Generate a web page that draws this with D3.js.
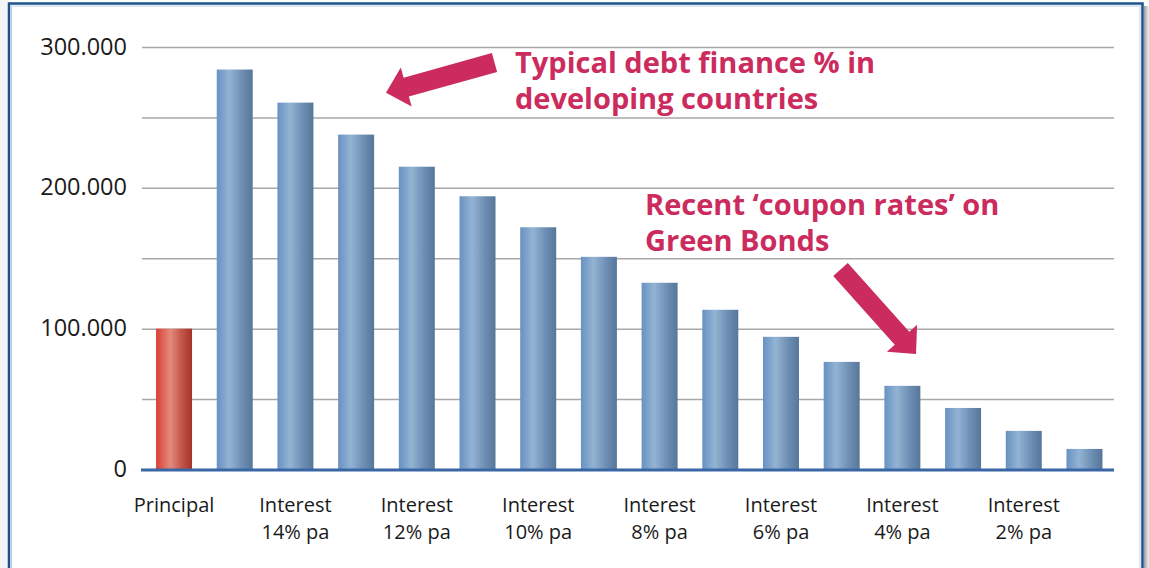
<!DOCTYPE html>
<html>
<head>
    <title>Interest vs principal</title>
    <script src="https://d3js.org/d3.v7.min.js"></script>
    <style>
        body { margin: 0; background: #fff; }
        #chart { display: block; }
    </style>
</head>
<body>
<svg id="chart"></svg>
<script>
    // data
    const categories = ["Principal", "15%", "14%", "13%", "12%", "11%", "10%", "9%", "8%", "7%", "6%", "5%", "4%", "3%", "2%", "1%"];
    const values = [100000, 284000, 260500, 237800, 215000, 194000, 172000, 151000, 132600, 113400, 94200, 76400, 59400, 43700, 27400, 14600];
    const labelLines = {
        "Principal": ["Principal"],
        "14%": ["Interest", "14% pa"],
        "12%": ["Interest", "12% pa"],
        "10%": ["Interest", "10% pa"],
        "8%": ["Interest", "8% pa"],
        "6%": ["Interest", "6% pa"],
        "4%": ["Interest", "4% pa"],
        "2%": ["Interest", "2% pa"]
    };
    const gridTicks = [0, 50000, 100000, 150000, 200000, 250000, 300000];
    const labelTicks = [0, 100000, 200000, 300000];
    const notes = [
        { lines: ["Typical debt finance % in", "developing countries"], x: 515, y: 73 },
        { lines: ["Recent \u2018coupon rates\u2019 on", "Green Bonds"], x: 645, y: 215 }
    ];

    const width = 1149, height = 568;
    const plotLeft = 142, plotRight = 1114, plotTop = 47, plotBottom = 469.5;
    const magenta = "#cc2b5e";
    const font = "'Open Sans', 'Noto Sans', sans-serif";

    const svg = d3.select("#chart").attr("width", width).attr("height", height);
    const defs = svg.append("defs");

    function barGradient(id, stops) {
        const g = defs.append("linearGradient").attr("id", id)
            .attr("x1", "0%").attr("x2", "100%").attr("y1", "0%").attr("y2", "0%");
        stops.forEach(s => g.append("stop").attr("offset", s[0]).attr("stop-color", s[1]));
    }
    barGradient("blueBar", [["0%", "#6892c2"], ["35%", "#93b3d3"], ["70%", "#6e8fb4"], ["100%", "#567799"]]);
    barGradient("redBar", [["0%", "#da3f33"], ["40%", "#e38a7e"], ["70%", "#c4574b"], ["100%", "#a6332a"]]);
    barGradient("shadow", [["0%", "#9a9a9a"], ["100%", "#f2f2f2"]]);

    // frame
    svg.append("rect").attr("x", 0).attr("y", 0).attr("width", 8).attr("height", height).attr("fill", "#f5f5f5");
    svg.append("rect").attr("x", 1144).attr("y", 6).attr("width", 5).attr("height", height).attr("fill", "url(#shadow)");
    svg.append("rect").attr("x", 9).attr("y", 3.5).attr("width", 1133.5).attr("height", 620)
        .attr("fill", "#fff").attr("stroke", "#1d528c").attr("stroke-width", 2.5);
    svg.append("rect").attr("x", 11.5).attr("y", 6).attr("width", 1128.5).attr("height", 620)
        .attr("fill", "none").attr("stroke", "#b9cfe6").attr("stroke-width", 1);

    const x = d3.scaleBand().domain(categories).range([143.9, 1114.6])
        .paddingInner(0.407).paddingOuter(0.2);
    const y = d3.scaleLinear().domain([0, 300000]).range([plotBottom, plotTop]);

    const loc = d3.formatLocale({ decimal: ",", thousands: ".", grouping: [3], currency: ["", ""] });
    const fmt = loc.format(",");

    // y grid + labels
    const yAxis = svg.append("g")
        .attr("transform", `translate(${plotLeft},0)`)
        .call(d3.axisLeft(y).tickValues(gridTicks).tickSize(-(plotRight - plotLeft)).tickPadding(15)
            .tickFormat(d => labelTicks.includes(d) ? fmt(d) : ""));
    yAxis.select(".domain").remove();
    yAxis.selectAll(".tick line").attr("stroke", "#a8a8a8").attr("stroke-width", 1.5);
    yAxis.selectAll(".tick text").attr("font-family", font).attr("font-size", 23.5)
        .attr("fill", "#1a1a1a").attr("dy", "0.3em");

    // bars
    svg.append("g").selectAll("rect")
        .data(categories.map((c, i) => ({ c, v: values[i] })))
        .join("rect")
        .attr("x", d => x(d.c))
        .attr("width", x.bandwidth())
        .attr("y", d => y(d.v))
        .attr("height", d => y(0) - y(d.v))
        .attr("fill", d => d.c === "Principal" ? "url(#redBar)" : "url(#blueBar)");

    // x axis
    const xAxis = svg.append("g")
        .attr("transform", `translate(0,${plotBottom})`)
        .call(d3.axisBottom(x).tickSize(0).tickFormat(""));
    xAxis.select(".domain").remove();
    xAxis.append("line").attr("x1", plotLeft - 1).attr("x2", plotRight).attr("y1", 0.5).attr("y2", 0.5)
        .attr("stroke", "#3b66a5").attr("stroke-width", 3);
    xAxis.selectAll(".tick").each(function (d) {
        const lines = labelLines[d];
        if (!lines) return;
        const t = d3.select(this).select("text")
            .attr("font-family", font).attr("font-size", 20).attr("fill", "#1a1a1a")
            .attr("y", 0).attr("dy", null);
        lines.forEach((s, i) => {
            t.append("tspan").attr("x", 0).attr("y", 42.5 + i * 27).text(s);
        });
    });

    // annotations
    notes.forEach(n => {
        const t = svg.append("text").attr("font-family", font).attr("font-weight", "bold")
            .attr("font-size", 29).attr("fill", magenta);
        n.lines.forEach((s, i) => t.append("tspan").attr("x", n.x).attr("y", n.y + i * 35.5).text(s));
    });

    function arrow(tail, tip, shaftW, headW, headL) {
        const dx = tip[0] - tail[0], dy = tip[1] - tail[1];
        const len = Math.hypot(dx, dy);
        const ux = dx / len, uy = dy / len, px = -uy, py = ux;
        const bx = tip[0] - ux * headL, by = tip[1] - uy * headL;
        const pts = [
            [tail[0] + px * shaftW / 2, tail[1] + py * shaftW / 2],
            [bx + px * shaftW / 2, by + py * shaftW / 2],
            [bx + px * headW / 2, by + py * headW / 2],
            tip,
            [bx - px * headW / 2, by - py * headW / 2],
            [bx - px * shaftW / 2, by - py * shaftW / 2],
            [tail[0] - px * shaftW / 2, tail[1] - py * shaftW / 2]
        ];
        svg.append("path").attr("d", d3.line()(pts) + "Z").attr("fill", magenta);
    }
    arrow([494.5, 62.5], [386, 92.7], 19.5, 40.5, 21);
    arrow([840.5, 269.5], [916, 354], 19.5, 40.5, 21);
</script>
</body>
</html>
